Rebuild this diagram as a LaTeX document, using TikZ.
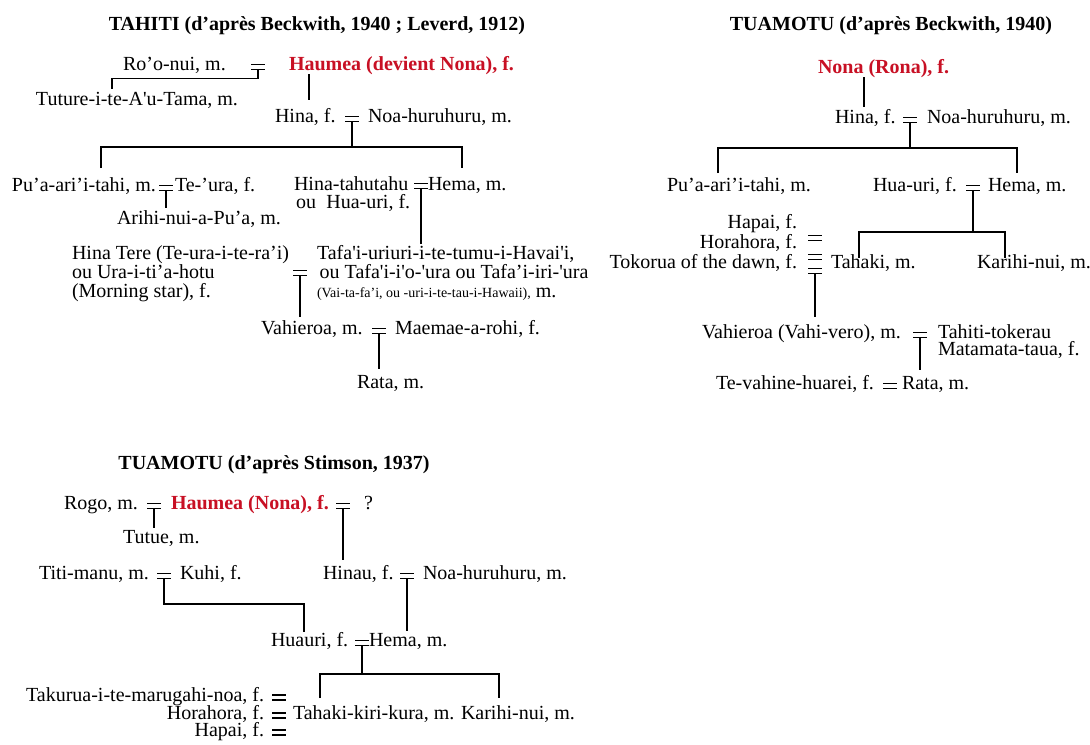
\documentclass[tikz,border=0pt]{standalone}
\usepackage{fontspec}
\setmainfont{Liberation Serif}
\usetikzlibrary{calc}
\definecolor{namered}{RGB}{200,16,36}
\tikzset{
  eqsign/.pic={
    \draw[eqbar] (-7,-2.5) -- (7,-2.5);
    \draw[eqbar] (-7,2.5) -- (7,2.5);
    \coordinate (-b) at (0,2.5);
  },
}
\begin{document}
\begin{tikzpicture}[x=0.75pt,y=-0.75pt,
  nm/.style={inner sep=0pt,outer sep=0pt,font=\fontsize{15pt}{17pt}\selectfont},
  nl/.style={nm,anchor=base west},
  nr/.style={nm,anchor=base east},
  ttl/.style={inner sep=0pt,outer sep=0pt,anchor=base,font=\fontsize{15pt}{17pt}\selectfont\bfseries},
  hl/.style={nl,font=\fontsize{15pt}{17pt}\selectfont\bfseries,text=namered},
  kin/.style={line width=1.1pt},
  eqbar/.style={line width=1.1pt},
]
\fill[white] (0,0) rectangle (1090,744);
\useasboundingbox (0,0) rectangle (1090,744);

% ---------------- TAHITI ----------------
\node[ttl] (tTah) at (317,30) {TAHITI (d’après Beckwith, 1940 ; Leverd, 1912)};
\node[nl] (roo) at (123,70) {Ro’o-nui, m.};
\pic (eA) at (258,67) {eqsign};
\node[hl] (haumeaT) at (289,70) {Haumea (devient Nona), f.};
\node[nl] (tuture) at (36,105) {Tuture-i-te-A\textquotesingle u-Tama, m.};
\coordinate (cTut) at (112,89);
\draw[kin] (eA-b) -- ++(0,9) -| (cTut);
\coordinate (cHinaT) at (309,100);
\draw[kin] (haumeaT.south -| cHinaT) -- (cHinaT);

\node[nl] (hinaT) at (275,122) {Hina, f.};
\pic (eB) at (352,119) {eqsign};
\node[nl] (noaT) at (368,122) {Noa-huruhuru, m.};
\coordinate (jB) at (352,147);
\coordinate (cPua) at (101,168);
\coordinate (cHema) at (462,168);
\draw[kin] (eB-b) -- (jB);
\draw[kin] (cPua) |- (jB) -| (cHema);

\node[nl] (pua) at (12,191) {Pu’a-ari’i-tahi, m.};
\pic (eP) at (166,188) {eqsign};
\node[nl] (teura) at (175,191) {Te-’ura, f.};
\node[nl,align=left,font=\fontsize{15pt}{13.5pt}\selectfont] (hinatah) at (294,208) {Hina-tahutahu\\\kern1.5pt ou\hspace{4pt} Hua-uri, f.};
\pic (eHT) at (421,186) {eqsign};
\node[nl] (hemaT) at (428,190) {Hema, m.};
\node[nl] (arihi) at (117,224) {Arihi-nui-a-Pu’a, m.};
\coordinate (cAri) at (166,208);
\draw[kin] (eP-b) -- (cAri);
\coordinate (cTaf) at (421,244);
\draw[kin] (eHT-b) -- (cTaf);

\node[nl,align=left,font=\fontsize{15pt}{14.25pt}\selectfont] (hinatere) at (72,297) {Hina Tere (Te-ura-i-te-ra’i)\\ou Ura-i-ti’a-hotu\\(Morning star), f.};
\pic (eHT2) at (300,273) {eqsign};
\node[nl,align=left,font=\fontsize{15pt}{14.25pt}\selectfont] (tafai) at (317,297) {Tafa\textquotesingle i-uriuri-i-te-tumu-i-Havai\textquotesingle i,\\\kern2pt ou Tafa\textquotesingle i-i\textquotesingle o-\textquotesingle ura ou Tafa’i-iri-\textquotesingle ura\\{\fontsize{10.5pt}{12pt}\selectfont (Vai-ta-fa’i, ou -uri-i-te-tau-i-Hawaii),} m.};
\coordinate (cVah) at (300,317);
\draw[kin] (eHT2-b) -- (cVah);

\node[nl] (vahT) at (261,334) {Vahieroa, m.};
\pic (eV) at (379,331) {eqsign};
\node[nl] (maemae) at (395,334) {Maemae-a-rohi, f.};
\coordinate (cRata) at (379,369);
\draw[kin] (eV-b) -- (cRata);
\node[nl] (rataT) at (357,388) {Rata, m.};

% ---------------- TUAMOTU (Beckwith) ----------------
\node[ttl] (tBeck) at (891,30) {TUAMOTU (d’après Beckwith, 1940)};
\node[hl] (nona) at (818,73) {Nona (Rona), f.};
\coordinate (cHinaB) at (864,107);
\draw[kin] (nona.south -| cHinaB) -- (cHinaB);
\node[nl] (hinaB) at (835,123) {Hina, f.};
\pic (eB1) at (910,120) {eqsign};
\node[nl] (noaB) at (927,123) {Noa-huruhuru, m.};
\coordinate (jB1) at (910,148);
\coordinate (cPuaB) at (718,173);
\coordinate (cHemaB) at (1017,173);
\draw[kin] (eB1-b) -- (jB1);
\draw[kin] (cPuaB) |- (jB1) -| (cHemaB);
\node[nl] (puaB) at (667,191) {Pu’a-ari’i-tahi, m.};
\node[nl] (huauriB) at (873,191) {Hua-uri, f.};
\pic (eB2) at (973,188) {eqsign};
\node[nl] (hemaB) at (988,191) {Hema, m.};
\coordinate (jB2) at (973,232);
\coordinate (cTah) at (859,258);
\coordinate (cKar) at (1005,258);
\draw[kin] (eB2-b) -- (jB2);
\draw[kin] (cTah) |- (jB2) -| (cKar);
\node[nr] (hapaiB) at (797,228) {Hapai, f.};
\node[nr] (horaB) at (797,248) {Horahora, f.};
\node[nr] (tokorua) at (797,268) {Tokorua of the dawn, f.};
\pic (eT1) at (815,238) {eqsign};
\pic (eT2) at (815,257) {eqsign};
\pic (eT3) at (815,271) {eqsign};
\node[nl] (tahakiB) at (831,268) {Tahaki, m.};
\node[nl] (karihiB) at (977,268) {Karihi-nui, m.};
\coordinate (cVahB) at (815,317);
\draw[kin] (eT3-b) -- (cVahB);
\node[nl] (vahB) at (702,338) {Vahieroa (Vahi-vero), m.};
\pic (eVB) at (920,335) {eqsign};
\node[nl,align=left,font=\fontsize{15pt}{12.75pt}\selectfont] (tahiti) at (938,355) {Tahiti-tokerau\\Matamata-taua, f.};
\coordinate (cRataB) at (920,370);
\draw[kin] (eVB-b) -- (cRataB);
\node[nl] (tevahine) at (716,389) {Te-vahine-huarei, f.};
\pic (eTV) at (890,386) {eqsign};
\node[nl] (rataB) at (902,389) {Rata, m.};

% ---------------- TUAMOTU (Stimson) ----------------
\node[ttl] (tStim) at (274,469) {TUAMOTU (d’après Stimson, 1937)};
\node[nl] (rogo) at (64,509) {Rogo, m.};
\pic (eS1) at (154,506) {eqsign};
\node[hl] (haumeaS) at (171,509) {Haumea (Nona), f.};
\pic (eS2) at (343,506) {eqsign};
\node[nl] (unk) at (364,509) {?};
\coordinate (cTutue) at (154,528);
\draw[kin] (eS1-b) -- (cTutue);
\node[nl] (tutue) at (123,543) {Tutue, m.};
\coordinate (cHinau) at (343,560);
\draw[kin] (eS2-b) -- (cHinau);
\node[nl] (titi) at (39,579) {Titi-manu, m.};
\pic (eS3) at (164,576) {eqsign};
\node[nl] (kuhi) at (180,579) {Kuhi, f.};
\node[nl] (hinau) at (323,579) {Hinau, f.};
\pic (eS4) at (407,576) {eqsign};
\node[nl] (noaS) at (423,579) {Noa-huruhuru, m.};
\coordinate (cHuauri) at (304,632);
\draw[kin] (eS3-b) -- ++(0,25.5) -| (cHuauri);
\coordinate (cHemaS) at (407,631);
\draw[kin] (eS4-b) -- (cHemaS);
\node[nl] (huauri) at (271,646) {Huauri, f.};
\pic (eS5) at (362,643) {eqsign};
\node[nl] (hemaS) at (369,646) {Hema, m.};
\coordinate (jS5) at (362,674);
\coordinate (cTahS) at (320,698);
\coordinate (cKarS) at (499,698);
\draw[kin] (eS5-b) -- (jS5);
\draw[kin] (cTahS) |- (jS5) -| (cKarS);
\node[nr] (takurua) at (264,701) {Takurua-i-te-marugahi-noa, f.};
\node[nr] (horaS) at (264,719) {Horahora, f.};
\node[nr] (hapaiS) at (264,736) {Hapai, f.};
\pic (eW1) at (279,697.5) {eqsign};
\pic (eW2) at (279,715.5) {eqsign};
\pic (eW3) at (279,732.5) {eqsign};
\node[nl] (tahakiS) at (293,719) {Tahaki-kiri-kura, m.};
\node[nl] (karihiS) at (461,719) {Karihi-nui, m.};
\end{tikzpicture}
\end{document}
